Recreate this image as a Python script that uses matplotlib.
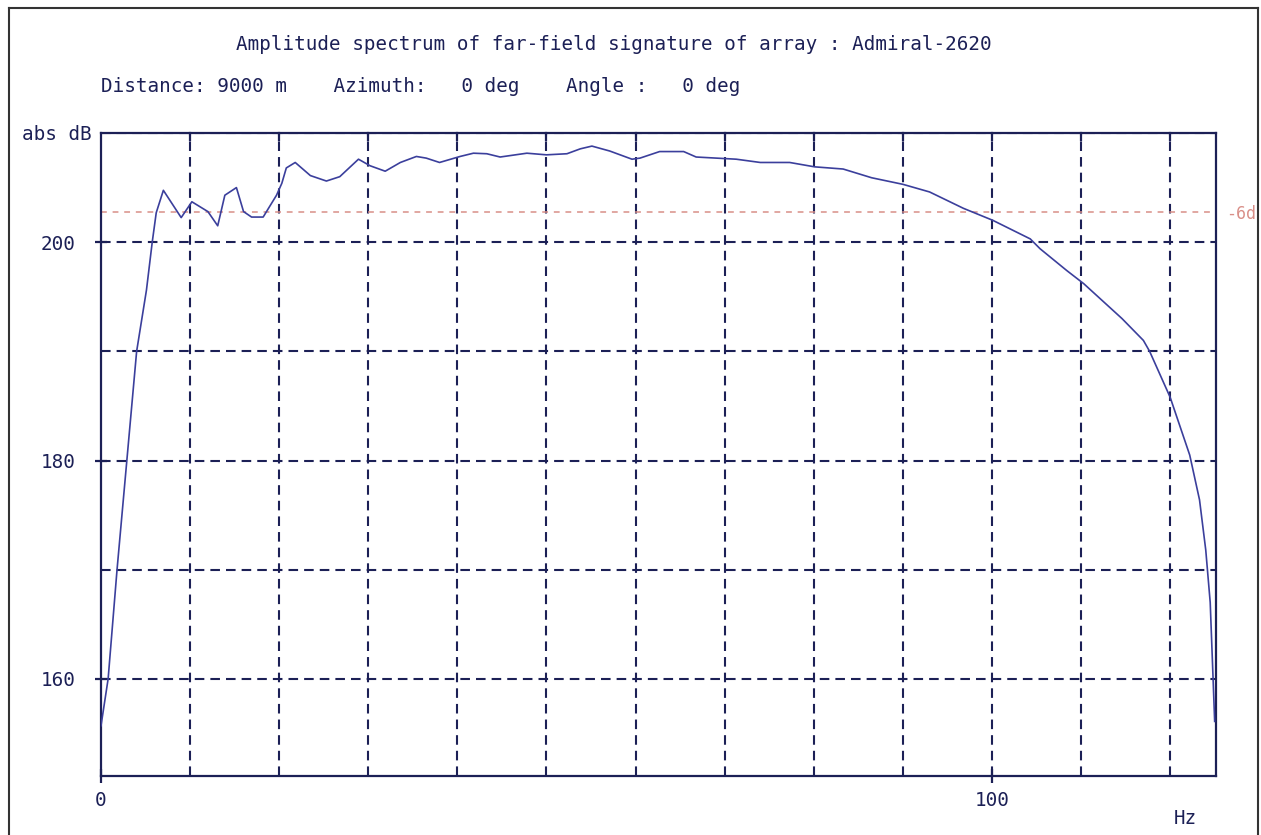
import numpy as np
import matplotlib
matplotlib.use('Agg')
import matplotlib.pyplot as plt
from matplotlib.lines import Line2D
from matplotlib.patches import Rectangle

# Far-field amplitude spectrum
freq_hz = [0, 0.8, 1.8, 2.9, 4.0, 5.1, 5.75, 6.2, 7.0, 9.0, 10.2, 12.0, 13.1, 13.9,
           15.2, 16.0, 16.9, 18.2, 19.7, 20.3, 20.8, 21.8, 23.5, 25.3, 26.8, 28.9,
           30.2, 31.9, 33.6, 35.4, 36.5, 38.0, 40.3, 41.8, 43.3, 44.8, 47.8, 50.0,
           52.3, 53.8, 55.1, 57.1, 59.6, 60.5, 62.7, 65.4, 66.8, 71.3, 74.0, 77.3,
           80.1, 83.3, 86.5, 90.0, 93.0, 96.8, 100.1, 104.3, 105.4, 108.4, 110.3,
           114.6, 117.0, 117.7, 120.0, 122.2, 123.3, 124.0, 124.5, 124.8, 125.0]
amp_db = [155.7, 160, 170, 180, 190, 195.6, 200, 202.7, 204.75, 202.25, 203.7, 202.8,
          201.5, 204.3, 205.0, 202.8, 202.3, 202.3, 204.3, 205.4, 206.8, 207.3, 206.1,
          205.6, 206.0, 207.6, 207.0, 206.5, 207.3, 207.85, 207.7, 207.3, 207.85,
          208.15, 208.1, 207.8, 208.15, 208.0, 208.1, 208.55, 208.8, 208.35, 207.6,
          207.7, 208.3, 208.3, 207.8, 207.6, 207.3, 207.3, 206.9, 206.7, 205.9, 205.3,
          204.6, 203.1, 202.0, 200.3, 199.4, 197.4, 196.2, 193.0, 191.0, 190.0, 185.8,
          180.5, 176.4, 171.8, 167.0, 160.5, 156.1]

minus6_level = 202.75
x_ticks = [0, 100]
y_ticks = [160, 180, 200]
x_grid = [10, 20, 30, 40, 50, 60, 70, 80, 90, 100, 110, 120]
y_grid = [160, 170, 180, 190, 200, 210]

title = 'Amplitude spectrum of far-field signature of array : Admiral-2620'
subtitle = 'Distance: 9000 m    Azimuth:   0 deg    Angle :   0 deg'

W, H = 1261, 835
navy = '#1c2056'
curve_col = '#3b3f9c'
red = '#d98f88'
mono = 'DejaVu Sans Mono'
fs = 13.9

fig = plt.figure(figsize=(W / 100, H / 100), dpi=100)
ax = fig.add_axes([101 / W, 1 - 776 / H, (1216 - 101) / W, (776 - 133) / H])

# dashed grid
for gx in x_grid:
    ax.axvline(gx, color=navy, lw=1.5, dashes=(4.6, 2.9), zorder=1)
for gy in y_grid:
    ax.axhline(gy, color=navy, lw=1.5, dashes=(4.6, 2.9), zorder=1)

# -6 dB reference line
ax.axhline(minus6_level, color=red, lw=1.1, dashes=(3.8, 3.8), zorder=1)

ax.plot(freq_hz, amp_db, color=curve_col, lw=1.2, zorder=3)

ax.set_xlim(0, 125.15)
ax.set_ylim(151.1, 210)

for s in ax.spines.values():
    s.set_color(navy)
    s.set_linewidth(1.6)

ax.set_xticks(x_ticks)
ax.set_yticks(y_ticks)
ax.tick_params(axis='x', direction='inout', length=10, width=1.6, color=navy,
               labelcolor=navy, pad=6)
ax.tick_params(axis='y', direction='inout', length=9, width=1.6, color=navy,
               labelcolor=navy, pad=14)
for lab in ax.get_xticklabels() + ax.get_yticklabels():
    lab.set_family(mono)
    lab.set_fontsize(fs)

# small inward ticks on top where grid lines meet the frame
for gx in x_grid:
    ax.plot([gx, gx], [210, 209.4], color=navy, lw=1.6, clip_on=False, zorder=2)

fig.text(236 / W, 1 - 45 / H, title, family=mono, fontsize=fs, color=navy,
         ha='left', va='center')
fig.text(101 / W, 1 - 86 / H, subtitle, family=mono, fontsize=fs, color=navy,
         ha='left', va='center')
fig.text(92 / W, 1 - 135 / H, 'abs dB', family=mono, fontsize=fs, color=navy,
         ha='right', va='center')
fig.text(1185 / W, 1 - 818 / H, 'Hz', family=mono, fontsize=fs, color=navy,
         ha='center', va='center')
fig.text(1226 / W, 1 - 214 / H, '-6d', family=mono, fontsize=12, color=red,
         ha='left', va='center')

# outer frame of the original screenshot
fig.patches.append(Rectangle((1258 / W, 0), 3 / W, 1, transform=fig.transFigure,
                             facecolor='white', edgecolor='none', zorder=5))
for xs, ys in [([9, 9], [8, H]), ([9, 1258], [8, 8]), ([1258, 1258], [8, H])]:
    fig.lines.append(Line2D([x / W for x in xs], [1 - y / H for y in ys],
                            transform=fig.transFigure, color='#333333', lw=1.5,
                            zorder=6))

fig.savefig('out.png', dpi=100)
